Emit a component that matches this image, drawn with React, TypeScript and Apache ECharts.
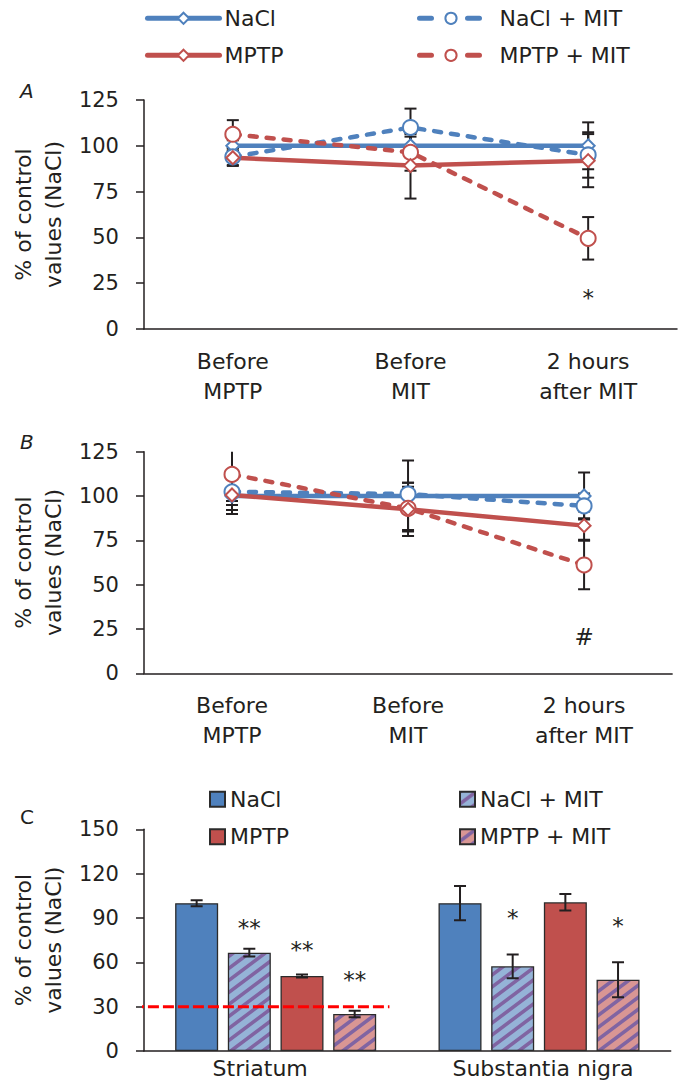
import React, { useEffect, useRef } from 'react';
import * as echarts from 'echarts';

// ---------- data ----------
const timepoints = ['Before\nMPTP', 'Before\nMIT', '2 hours\nafter MIT'];

// Panel A
const aNaCl = [100, 100, 100];
const aNaClErr = [3, 5, 12.8];
const aNaClMIT = [94, 110, 95];
const aNaClMITErr = [5, 10.3, 12.4];
const aMPTPMIT = [106.3, 96.4, 49.5];
const aMPTPMITErr = [7.7, 10, 11.6];
const aMPTP = [93.5, 89.2, 91.9];
const aMPTPErr = [4, 18, 14.5];
const aMarkCat = [2];
const aMarkY = [19.5];
const aMarkText = ['*'];

// Panel B
const bNaCl = [100, 100, 100];
const bNaClErr = [5, 20, 13.2];
const bNaClMIT = [102.4, 101.1, 94.4];
const bNaClMITErr = [10.3, 6.4, 7];
const bMPTPMIT = [112.2, 93, 61.1];
const bMPTPMITErr = [15, 12.2, 13.7];
const bMPTP = [100.6, 92.5, 83.3];
const bMPTPErr = [10.8, 15, 8];
const bMarkCat = [2];
const bMarkY = [20.6];
const bMarkText = ['#'];

// Panel C
const regions = ['Striatum', 'Substantia nigra'];
const cNaCl = [100, 100];
const cNaClErr = [2, 11.6];
const cNaClMIT = [66.5, 57.3];
const cNaClMITErr = [2.6, 8];
const cMPTP = [50.7, 100.6];
const cMPTPErr = [1, 5.6];
const cMPTPMIT = [25, 48.2];
const cMPTPMITErr = [2.2, 11.9];
const cMarkRegion = [0, 0, 0, 1, 1];
const cMarkBar = [1, 2, 3, 1, 3];
const cMarkY = [86.8, 71.7, 51.4, 93.2, 88.2];
const cMarkText = ['**', '**', '**', '*', '*'];
const threshold = 30;
const thresholdSpan = [-0.042, 0.932]; // in category units of panel C

// ---------- styles ----------
const FONT = 'DejaVu Sans';
const INK = '#231f20';
const BLUE = '#4f81bd';
const RED = '#c0504d';
const LIGHT_BLUE = '#95b3d7';
const PINK = '#d99694';
const PURPLE = '#8064a2';
const BAR_W = 43;
const BAR_GAP = 0.225;
const BAR_STEP = BAR_W * (1 + BAR_GAP);

// "/" diagonal hatch tile (16 x 12 px)
function hatch(bg: string, fg: string) {
  const svg =
    `<svg xmlns="http://www.w3.org/2000/svg" width="16" height="12">` +
    `<rect width="16" height="12" fill="${bg}"/>` +
    `<path d="M-2,13.5 L18,-1.5 M-2,1.5 L18,-13.5 M-2,25.5 L18,10.5" stroke="${fg}" stroke-width="3.6" fill="none"/>` +
    `</svg>`;
  return {
    image: 'data:image/svg+xml;charset=utf-8,' + encodeURIComponent(svg),
    repeat: 'repeat',
    imageWidth: 16,
    imageHeight: 12,
  };
}

function lineSeries(name: string, data: number[], color: string, dashed: boolean, gi: number) {
  return {
    type: 'line',
    name,
    data,
    xAxisIndex: gi,
    yAxisIndex: gi,
    symbol: dashed ? 'emptyCircle' : 'emptyDiamond',
    symbolSize: dashed ? 15 : 13,
    itemStyle: { color, borderWidth: 3.5 },
    lineStyle: { color, width: 4.5, type: dashed ? [7, 10] : 'solid', cap: 'round' },
    z: 3,
  };
}

function errRows(means: number[], errs: number[], k: number) {
  return means.map((m, i) => [i, m - errs[i], m + errs[i], k]);
}

function errSeries(gi: number, rows: number[][], barMode: boolean) {
  return {
    type: 'custom',
    xAxisIndex: gi,
    yAxisIndex: gi,
    clip: true,
    z: barMode ? 4 : 1,
    encode: { x: 0, y: [1, 2] },
    data: rows,
    renderItem: (params: any, api: any) => {
      const cat = api.value(0);
      const lo = api.coord([cat, api.value(1)]);
      const hi = api.coord([cat, api.value(2)]);
      const k = api.value(3);
      const x = lo[0] + (barMode ? (k - 1.5) * BAR_STEP : 0);
      const hw = 6;
      const style = { stroke: INK, lineWidth: 2 };
      return {
        type: 'group',
        children: [
          { type: 'line', shape: { x1: x, y1: hi[1], x2: x, y2: lo[1] }, style },
          { type: 'line', shape: { x1: x - hw, y1: hi[1], x2: x + hw, y2: hi[1] }, style },
          { type: 'line', shape: { x1: x - hw, y1: lo[1], x2: x + hw, y2: lo[1] }, style },
        ],
      };
    },
  };
}

function markSeries(gi: number, cats: number[], ys: number[], ks: number[], texts: string[], barMode: boolean) {
  return {
    type: 'custom',
    xAxisIndex: gi,
    yAxisIndex: gi,
    z: 6,
    encode: { x: 0, y: 1 },
    data: cats.map((c, i) => [c, ys[i], ks[i]]),
    renderItem: (params: any, api: any) => {
      const p = api.coord([api.value(0), api.value(1)]);
      const k = api.value(2);
      const text = texts[params.dataIndex];
      const x = p[0] + (barMode ? (k - 1.5) * BAR_STEP : 0);
      const dy = text.indexOf('*') >= 0 ? 5 : 0;
      return {
        type: 'text',
        x,
        y: p[1] + dy,
        style: { text, fill: INK, fontSize: 23, fontFamily: FONT, align: 'center', verticalAlign: 'middle' },
      };
    },
  };
}

function barSeries(name: string, data: number[], color: any) {
  return {
    type: 'bar',
    name,
    data,
    xAxisIndex: 2,
    yAxisIndex: 2,
    barWidth: BAR_W,
    barGap: BAR_GAP * 100 + '%',
    itemStyle: { color, borderColor: '#2b2b2b', borderWidth: 1.3 },
    z: 2,
  };
}

const yAxisBase = (gi: number, max: number, interval: number) => ({
  gridIndex: gi,
  type: 'value',
  min: 0,
  max,
  interval,
  axisLine: { show: true, lineStyle: { color: INK, width: 1.5 } },
  axisTick: { show: true, length: 8, lineStyle: { color: INK, width: 1.5 } },
  splitLine: { show: false },
  axisLabel: { fontSize: 21, fontFamily: FONT, color: INK, margin: 25 },
  name: '% of control\nvalues (NaCl)',
  nameLocation: 'middle',
  nameGap: 70,
  nameTextStyle: { fontSize: 22, lineHeight: 30, fontFamily: FONT, color: INK },
});

const xCat = (gi: number) => ({
  gridIndex: gi,
  type: 'category',
  data: timepoints,
  axisLine: { lineStyle: { color: INK, width: 1.5 } },
  axisTick: { alignWithLabel: true, length: 8, lineStyle: { color: INK, width: 1.5 } },
  axisLabel: { fontSize: 22, lineHeight: 30, fontFamily: FONT, color: INK, margin: 17, interval: 0 },
});

const legendText = { fontSize: 22, lineHeight: 26, fontFamily: FONT, color: INK };
const panelLetter = (text: string, top: number, italic: boolean) => ({
  text,
  left: 15,
  top,
  textStyle: { fontSize: 20, fontStyle: italic ? 'italic' : 'normal', fontWeight: 'normal', fontFamily: FONT, color: INK },
});

function buildOption() {
  return {
    animation: false,
    backgroundColor: '#fff',
    textStyle: { fontFamily: FONT },
    title: [panelLetter('A', 76, true), panelLetter('B', 427, true), panelLetter('C', 802, false)],
    legend: [
      {
        data: ['NaCl', 'MPTP'], orient: 'vertical', left: 145, top: 5.3, padding: 0,
        itemWidth: 72, itemHeight: 14, itemGap: 11, textStyle: legendText, selectedMode: false,
        lineStyle: { width: 5, cap: 'round' }, itemStyle: { borderWidth: 3 },
      },
      {
        data: ['NaCl + MIT', 'MPTP + MIT'], orient: 'vertical', left: 417, top: 5.3, padding: 0,
        itemWidth: 63, itemHeight: 14, itemGap: 11, textStyle: { ...legendText, padding: [0, 0, 0, 12] }, selectedMode: false,
        lineStyle: { width: 5, cap: 'round', type: [12, 36] }, itemStyle: { borderWidth: 3 },
      },
      { data: ['c:NaCl', 'c:MPTP'], orient: 'vertical', left: 209, top: 786.3, padding: 0, icon: 'rect', itemWidth: 15, itemHeight: 15, itemGap: 11.4, textStyle: legendText, selectedMode: false, formatter: (n: string) => n.slice(2) },
      { data: ['c:NaCl + MIT', 'c:MPTP + MIT'], orient: 'vertical', left: 459, top: 786.3, padding: 0, icon: 'rect', itemWidth: 15, itemHeight: 15, itemGap: 11.4, textStyle: legendText, selectedMode: false, formatter: (n: string) => n.slice(2) },
    ],
    grid: [
      { left: 142, top: 100, width: 535, height: 229 },
      { left: 139.6, top: 451.7, width: 532.5, height: 221.6 },
      { left: 141.7, top: 829.3, width: 529, height: 221.7 },
    ],
    xAxis: [
      xCat(0),
      xCat(1),
      {
        gridIndex: 2,
        type: 'category',
        data: regions,
        axisLine: { lineStyle: { color: INK, width: 1.5 } },
        axisTick: { length: 9, lineStyle: { color: INK, width: 1.5 } },
        axisLabel: {
          fontSize: 22,
          fontFamily: FONT,
          color: INK,
          margin: 6,
          interval: 0,
          formatter: (v: string) => (v === regions[0] ? `{s|${v}}` : `{n|${v}}`),
          rich: {
            s: { fontSize: 22, fontFamily: FONT, color: INK, padding: [0, 31, 0, 0] },
            n: { fontSize: 22, fontFamily: FONT, color: INK, padding: [0, 0, 0, 8] },
          },
        },
      },
      { gridIndex: 2, type: 'value', min: 0, max: 2, show: false, position: 'top' },
    ],
    yAxis: [yAxisBase(0, 125, 25), yAxisBase(1, 125, 25), yAxisBase(2, 150, 30)],
    series: [
      // Panel A
      errSeries(0, [
        ...errRows(aNaCl, aNaClErr, 0),
        ...errRows(aNaClMIT, aNaClMITErr, 1),
        ...errRows(aMPTPMIT, aMPTPMITErr, 2),
        ...errRows(aMPTP, aMPTPErr, 3),
      ], false),
      lineSeries('NaCl', aNaCl, BLUE, false, 0),
      lineSeries('NaCl + MIT', aNaClMIT, BLUE, true, 0),
      lineSeries('MPTP + MIT', aMPTPMIT, RED, true, 0),
      lineSeries('MPTP', aMPTP, RED, false, 0),
      markSeries(0, aMarkCat, aMarkY, aMarkCat.map(() => 0), aMarkText, false),
      // Panel B
      errSeries(1, [
        ...errRows(bNaCl, bNaClErr, 0),
        ...errRows(bNaClMIT, bNaClMITErr, 1),
        ...errRows(bMPTPMIT, bMPTPMITErr, 2),
        ...errRows(bMPTP, bMPTPErr, 3),
      ], false),
      lineSeries('NaCl', bNaCl, BLUE, false, 1),
      lineSeries('NaCl + MIT', bNaClMIT, BLUE, true, 1),
      lineSeries('MPTP + MIT', bMPTPMIT, RED, true, 1),
      lineSeries('MPTP', bMPTP, RED, false, 1),
      markSeries(1, bMarkCat, bMarkY, bMarkCat.map(() => 0), bMarkText, false),
      // Panel C
      barSeries('c:NaCl', cNaCl, BLUE),
      barSeries('c:NaCl + MIT', cNaClMIT, hatch(LIGHT_BLUE, PURPLE)),
      barSeries('c:MPTP', cMPTP, RED),
      barSeries('c:MPTP + MIT', cMPTPMIT, hatch(PINK, PURPLE)),
      errSeries(2, [
        ...errRows(cNaCl, cNaClErr, 0),
        ...errRows(cNaClMIT, cNaClMITErr, 1),
        ...errRows(cMPTP, cMPTPErr, 2),
        ...errRows(cMPTPMIT, cMPTPMITErr, 3),
      ], true),
      {
        type: 'line',
        xAxisIndex: 3,
        yAxisIndex: 2,
        clip: false,
        symbol: 'none',
        data: thresholdSpan.map((x) => [x, threshold]),
        lineStyle: { color: '#ff0000', width: 3, type: [11, 4] },
        z: 5,
      },
      markSeries(2, cMarkRegion, cMarkY, cMarkBar, cMarkText, true),
    ],
  };
}

export default function App() {
  const ref = useRef<HTMLDivElement>(null);
  useEffect(() => {
    document.body.style.margin = '0';
    const chart = echarts.init(ref.current as HTMLDivElement, null, { renderer: 'svg' });
    chart.setOption(buildOption() as any);
    return () => chart.dispose();
  }, []);
  return <div ref={ref} style={{ width: 680, height: 1081 }} />;
}
